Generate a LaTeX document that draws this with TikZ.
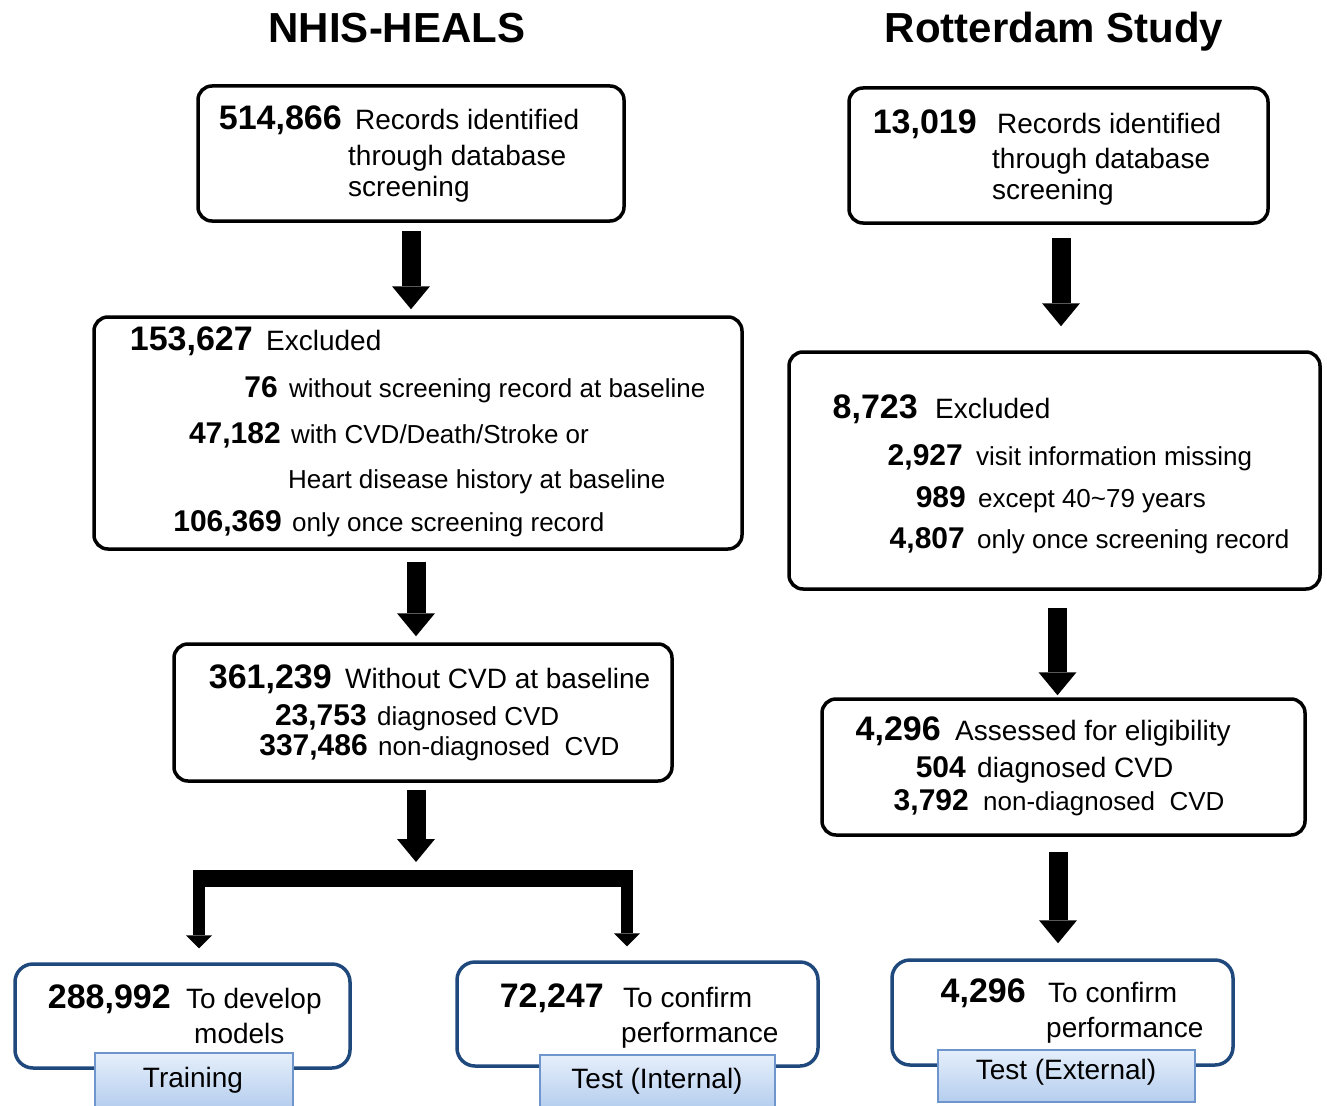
\documentclass[tikz,border=0pt]{standalone}
\usepackage{fontspec}
\setmainfont{Liberation Sans}
\usetikzlibrary{arrows.meta}
\definecolor{navy}{RGB}{31,73,125}
\definecolor{lbltop}{RGB}{230,239,251}
\definecolor{lblbot}{RGB}{180,205,238}
\definecolor{lbledge}{RGB}{110,150,205}
\begin{document}
\begin{tikzpicture}[x=1pt,y=-1pt,
 box/.style={draw=black, line width=3.5pt, rounded corners=14pt, inner sep=0pt, fill=white},
 fbox/.style={draw=navy, line width=3.5pt, rounded corners=18pt, inner sep=0pt, fill=white},
 lbl/.style={draw=lbledge, line width=1.2pt, top color=lbltop, bottom color=lblbot, inner sep=0pt},
 num/.style={anchor=base east, inner sep=0pt, font=\bfseries\fontsize{34}{34}\selectfont},
 snum/.style={anchor=base east, inner sep=0pt, font=\bfseries\fontsize{30}{30}\selectfont},
 txt/.style={anchor=base west, inner sep=0pt, font=\fontsize{28}{28}\selectfont},
 stxt/.style={anchor=base west, inner sep=0pt, font=\fontsize{26}{26}\selectfont},
 ttl/.style={anchor=base, inner sep=0pt, font=\bfseries\fontsize{42}{42}\selectfont},
 ltxt/.style={anchor=base, inner sep=0pt, font=\fontsize{28}{28}\selectfont},
 blk/.style={line width=19pt, -{Triangle[length=23pt 0 0, width=38pt 0 0, line width=0pt]}},
 leg/.style={line width=12pt, -{Triangle[length=13pt 0 0, width=26pt 0 0, line width=0pt]}},
]
\fill[white] (0,0) rectangle (1327,1105);
\useasboundingbox (0,0) rectangle (1327,1105);

% titles
\node[ttl] (ttlL) at (397,43) {NHIS-HEALS};
\node[ttl] (ttlR) at (1054,43) {Rotterdam Study};

% boxes
\node[box, minimum width=426, minimum height=135] (b1) at (411,153.5) {};
\node[box, minimum width=648, minimum height=232] (b2) at (418,433) {};
\node[box, minimum width=498, minimum height=137] (b3) at (423,712.5) {};
\node[box, minimum width=419, minimum height=135] (r1) at (1058.5,155.5) {};
\node[box, minimum width=531, minimum height=237] (r2) at (1054.5,470.5) {};
\node[box, minimum width=483, minimum height=136] (r3) at (1063.5,767) {};
\node[fbox, minimum width=335, minimum height=104] (bA) at (182.5,1016) {};
\node[fbox, minimum width=361, minimum height=104] (bB) at (637.5,1014) {};
\node[fbox, minimum width=341, minimum height=105] (bC) at (1062.5,1012.5) {};

% box 1
\node[num] (b1n) at (342,130) {514,866};
\node[txt] (b1t1) at (355,130) {Records identified};
\node[txt] (b1t2) at (348,165) {through database};
\node[txt] (b1t3) at (348,196) {screening};

% box r1
\node[num] (r1n) at (977,133) {13,019};
\node[txt] (r1t1) at (997,133) {Records identified};
\node[txt] (r1t2) at (992,168) {through database};
\node[txt] (r1t3) at (992,199) {screening};

% box 2
\node[num] (b2n) at (253,350) {153,627};
\node[txt] (b2t) at (266,350) {Excluded};
\node[snum] (b2n1) at (278,397) {76};
\node[stxt] (b2t1) at (289,397) {without screening record at baseline};
\node[snum] (b2n2) at (281,443) {47,182};
\node[stxt] (b2t2) at (291,443) {with CVD/Death/Stroke or};
\node[stxt] (b2t2b) at (288,488) {Heart disease history at baseline};
\node[snum] (b2n3) at (282,531) {106,369};
\node[stxt] (b2t3) at (292,531) {only once screening record};

% box r2
\node[num] (r2n) at (918,418) {8,723};
\node[txt] (r2t) at (935,418) {Excluded};
\node[snum] (r2n1) at (963,465) {2,927};
\node[stxt] (r2t1) at (976,465) {visit information missing};
\node[snum] (r2n2) at (966,507) {989};
\node[stxt] (r2t2) at (978,507) {except 40\textasciitilde79 years};
\node[snum] (r2n3) at (965,548) {4,807};
\node[stxt] (r2t3) at (977,548) {only once screening record};

% box 3
\node[num] (b3n) at (332,688) {361,239};
\node[txt] (b3t) at (345,688) {Without CVD at baseline};
\node[snum] (b3n1) at (367,725) {23,753};
\node[stxt] (b3t1) at (377,725) {diagnosed CVD};
\node[snum] (b3n2) at (368,755) {337,486};
\node[stxt] (b3t2) at (378,755) {non-diagnosed\ \ CVD};

% box r3
\node[num] (r3n) at (941,740) {4,296};
\node[txt] (r3t) at (955,740) {Assessed for eligibility};
\node[snum] (r3n1) at (966,777) {504};
\node[txt] (r3t1) at (977,777) {diagnosed CVD};
\node[snum] (r3n2) at (969,810) {3,792};
\node[stxt] (r3t2) at (983,810) {non-diagnosed\ \ CVD};

% bottom boxes
\node[num] (bAn) at (171,1008) {288,992};
\node[txt] (bAt1) at (186,1008) {To develop};
\node[txt] (bAt2) at (194,1043) {models};
\node[num] (bBn) at (604,1007) {72,247};
\node[txt] (bBt1) at (623,1007) {To confirm};
\node[txt] (bBt2) at (621,1042) {performance};
\node[num] (bCn) at (1026,1002) {4,296};
\node[txt] (bCt1) at (1048,1002) {To confirm};
\node[txt] (bCt2) at (1046,1037) {performance};

% labels
\node[lbl, minimum width=198, minimum height=56] (lA) at (194,1081) {};
\node[ltxt] (lAt) at (193,1087) {Training};
\node[lbl, minimum width=235, minimum height=54] (lB) at (657.5,1082) {};
\node[ltxt] (lBt) at (657,1088) {Test (Internal)};
\node[lbl, minimum width=257, minimum height=52] (lC) at (1066.5,1076) {};
\node[ltxt] (lCt) at (1066,1079) {Test (External)};

% arrows left
\draw[blk] ([yshift=-8pt]b1.south) -- ([yshift=6pt]b1.south |- b2.north);
\draw[blk] ([xshift=-2pt,yshift=-11pt]b2.south) -- ([xshift=-2pt,yshift=6pt]b2.south |- b3.north);
\coordinate (split) at (416,870);
\coordinate (brL) at (199,870);
\coordinate (brR) at (627,870);
\draw[blk] ([xshift=-7pt,yshift=-7pt]b3.south) -- ([yshift=8pt]split);
\draw[line width=17pt] ([xshift=-6pt,yshift=-8.5pt]brL) -- ([xshift=6pt,yshift=-8.5pt]brR);
\draw[leg] (brL) -- ([yshift=14pt]brL |- bA.north);
\draw[leg] (brR) -- ([yshift=14pt]brR |- bB.north);

% arrows right
\draw[blk] ([xshift=2.5pt,yshift=-13pt]r1.south) -- ([xshift=2.5pt,yshift=24pt]r1.south |- r2.north);
\draw[blk] ([xshift=3pt,yshift=-17pt]r2.south) -- ([xshift=3pt,yshift=2pt]r2.south |- r3.north);
\draw[blk] ([xshift=-5.5pt,yshift=-15pt]r3.south) -- ([xshift=-5.5pt,yshift=15pt]r3.south |- bC.north);
\end{tikzpicture}
\end{document}
